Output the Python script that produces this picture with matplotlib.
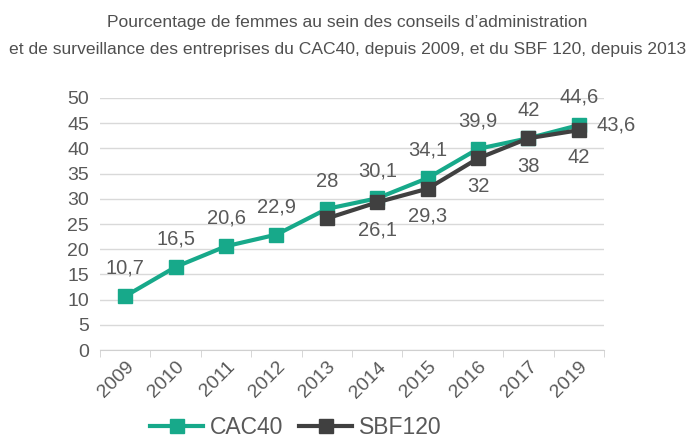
import matplotlib.pyplot as plt
from matplotlib.ticker import FixedLocator

years = ['2009', '2010', '2011', '2012', '2013', '2014', '2015', '2016', '2017', '2019']
cac40 = [10.7, 16.5, 20.6, 22.9, 28, 30.1, 34.1, 39.9, 42, 44.6]
sbf_years = ['2013', '2014', '2015', '2016', '2017', '2019']
sbf120 = [26.1, 29.3, 32, 38, 42, 43.6]

teal = '#17a98a'
dark = '#404040'
grey = '#595959'

plt.rcParams['font.family'] = ['Liberation Sans', 'DejaVu Sans']

fig = plt.figure(figsize=(6.95, 4.41), dpi=100)
ax = fig.add_axes([0.144, 0.206, 0.725, 0.572])

x = list(range(len(years)))
sx = [years.index(y) for y in sbf_years]

ax.plot(x, cac40, color=teal, lw=3, marker='s', ms=10, label='CAC40', zorder=3)
ax.plot(sx, sbf120, color=dark, lw=3, marker='s', ms=10, label='SBF120', zorder=4)

def fmt(v):
    return ('%g' % v).replace('.', ',')

# labels above the CAC40 points
for xi, v in zip(x, cac40):
    ax.annotate(fmt(v), (xi, v), xytext=(0, 20), textcoords='offset points',
                ha='center', va='center', fontsize=14.5, color=grey)

# SBF120 labels sit one category to the right, as in the original
for i, v in enumerate(sbf120):
    if i + 1 < len(sbf120):
        ax.annotate(fmt(v), (sx[i + 1], sbf120[i + 1]), xytext=(0, -20),
                    textcoords='offset points', ha='center', va='center',
                    fontsize=14.5, color=grey)
    else:
        ax.annotate(fmt(v), (sx[i], v), xytext=(27, 4), textcoords='offset points',
                    ha='center', va='center', fontsize=14.5, color=grey)

ax.set_xlim(-0.5, len(years) - 0.5)
ax.set_ylim(0, 50)
ax.set_yticks(range(0, 51, 5))
ax.set_xticks(x)
ax.set_xticklabels(years, rotation=45, fontsize=14, color=grey)
ax.xaxis.set_minor_locator(FixedLocator([i - 0.5 for i in range(len(years) + 1)]))
ax.tick_params(axis='x', which='major', length=0, pad=6)
ax.tick_params(axis='x', which='minor', length=5, color='#d0d0d0')
ax.tick_params(axis='y', length=0, labelsize=14, labelcolor=grey, pad=8)
for lab in ax.get_xticklabels():
    lab.set_horizontalalignment('right')
    lab.set_rotation_mode('anchor')

ax.grid(axis='y', color='#d9d9d9', lw=1)
ax.set_axisbelow(True)
for s in ['top', 'right', 'left']:
    ax.spines[s].set_visible(False)
ax.spines['bottom'].set_color('#d0d0d0')

fig.text(0.5, 0.95, 'Pourcentage de femmes au sein des conseils d\u2019administration',
         ha='center', va='center', fontsize=12.6, color='#505050')
fig.text(0.5, 0.887, 'et de surveillance des entreprises du CAC40, depuis 2009, et du SBF 120, depuis 2013',
         ha='center', va='center', fontsize=12.6, color='#505050')

fig.legend(loc='center', bbox_to_anchor=(0.426, 0.03), ncol=2, frameon=False,
           fontsize=16.5, handlelength=2.3, columnspacing=0.7, handletextpad=0.3,
           labelcolor=grey)

fig.savefig('out.png', dpi=100)
